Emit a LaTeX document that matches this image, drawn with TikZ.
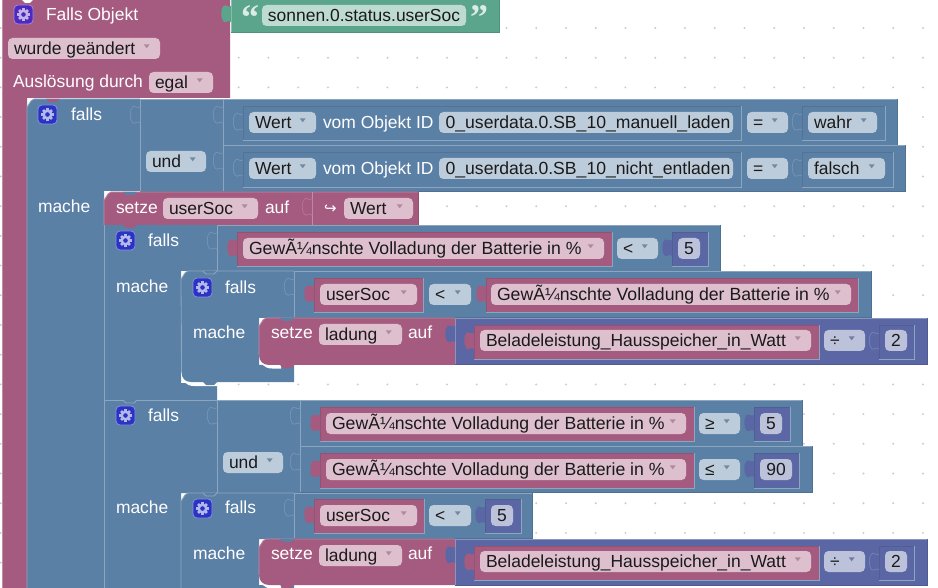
\documentclass[tikz,border=0pt]{standalone}
\usepackage{fontspec}
\setmainfont{Liberation Sans}
\newfontfamily\dvfont{DejaVu Sans}
\newfontfamily\qfont{Liberation Serif}
\definecolor{pk}{HTML}{A55B80}\definecolor{pkL}{HTML}{C08CA6}\definecolor{pkD}{HTML}{844966}\definecolor{pkF}{HTML}{DEBFCE}\definecolor{pkA}{HTML}{AD8A9C}
\definecolor{bl}{HTML}{5B80A5}\definecolor{blL}{HTML}{8CA6C0}\definecolor{blD}{HTML}{496684}\definecolor{blF}{HTML}{BDCCDB}\definecolor{blA}{HTML}{73899F}
\definecolor{pu}{HTML}{5B67A5}\definecolor{puL}{HTML}{8C95C0}\definecolor{puD}{HTML}{495284}\definecolor{puF}{HTML}{BDC2DB}\definecolor{puA}{HTML}{737A9F}
\definecolor{gr}{HTML}{5BA58C}\definecolor{grL}{HTML}{8CC0AF}\definecolor{grD}{HTML}{498470}\definecolor{grF}{HTML}{BDDBD1}\definecolor{grA}{HTML}{73998C}
\definecolor{txtc}{HTML}{1A1A1A}
\definecolor{icV}{HTML}{4F28C0}\definecolor{icB}{HTML}{2A34C4}
\newcommand{\gwt}{\fontsize{17.65}{20}\selectfont Gew\char"C3\char"BC nschte Volladung der Batterie in \%}
\newcommand{\bigt}{\hspace*{4pt}\fontsize{17.6}{20}\selectfont}
\newcount\fldno
\tikzset{
  lbl/.style={anchor=base west,inner sep=0pt,outer sep=0pt,font=\fontsize{17.45}{20}\selectfont,text=white},
  ftxt/.style={lbl,text=txtc},
}
% plain block: light top/left, dark right/bottom
\newcommand{\blk}[5]{\fill[#1] (#2,#3) rectangle (#4,#5);
  \draw[#1D!60!#1,line width=.8pt] (#4,#3) -- (#4,#5) -- (#2,#5);
  \draw[#1L,line width=.8pt] (#2,#5) -- (#2,#3) -- (#4,#3);}
% block sitting in an input: light right/bottom edge
\newcommand{\iblk}[5]{\fill[#1] (#2,#3) rectangle (#4,#5);
  \draw[#1D!50!#1,line width=.8pt] (#2,#5) -- (#2,#3) -- (#4,#3);
  \draw[blL,line width=.8pt] (#4,#3) -- (#4,#5) -- (#2,#5);}
\newcommand{\tabshape}[2]{(#1,{#2+1}) .. controls ({#1-3},{#2+3}) and ({#1-5},{#2-1}) .. ({#1-7.5},{#2+1}) .. controls ({#1-10.5},{#2+3}) and ({#1-10.5},{#2+14}) .. ({#1-7.5},{#2+16.5}) .. controls ({#1-5},{#2+19}) and ({#1-3},{#2+14}) .. (#1,{#2+17})}
\newcommand{\ptab}[3]{\fill[#3] \tabshape{#1}{#2} -- cycle;}
\newcommand{\otab}[3]{\fill[#3] \tabshape{#1}{#2} -- cycle; \draw[#3L!55!#3,line width=.7pt] \tabshape{#1}{#2};}
\newcommand{\fld}[5]{\global\advance\fldno by 1
  \fill[#1F,rounded corners=4.5pt] (#2,#3) rectangle (#4,{#3+21});
  \fill[#1A] ({#4-16.3},{#3+6.3}) -- ({#4-10.3},{#3+6.3}) -- ({#4-13.3},{#3+10.3}) -- cycle;
  \node[ftxt] (f\the\fldno) at ({#2+6},{#3+16.3}) {#5};}
\newcommand{\fldn}[5]{\global\advance\fldno by 1
  \fill[#1F,rounded corners=4.5pt] (#2,#3) rectangle (#4,{#3+21});
  \node[ftxt,anchor=base] (f\the\fldno) at ({(#2+#4)/2},{#3+16.3}) {#5};}
\newcommand{\wlab}[4]{\node[lbl] (#1) at (#2,{#3+.6}) {#4};}
\newcommand{\gearic}[3]{\fill[#3,draw=#3!55!white,line width=.8pt,rounded corners=4pt] (#1,#2) rectangle ({#1+19},{#2+19});
  \foreach \a in {0,45,...,315}{\draw[#3!35!white,line width=2.6pt] ({#1+9.5},{#2+9.5}) -- ++(\a:6.3);}
  \fill[#3!35!white] ({#1+9.5},{#2+9.5}) circle (5);
  \fill[#3] ({#1+9.5},{#2+9.5}) circle (2.3);}
\newcommand{\bumpd}[3]{\fill[#3] (#1,#2) -- ({#1+3},{#2+3}) -- ({#1+11},{#2+3}) -- ({#1+14},#2) -- cycle;}
\newcommand{\bumpl}[2]{\fill[bl] (#1,{#2-.4}) -- ({#1+14},{#2-.4}) -- ({#1+14},{#2+.6}) -- (#1,{#2+.6}) -- cycle;
  \draw[blL,line width=.8pt] (#1,#2) -- ({#1+3},{#2+3}) -- ({#1+11},{#2+3}) -- ({#1+14},#2);}
% white sliver below a rounded bottom-left corner
\newcommand{\wcorner}[3]{\fill[white] (#1,{#2-10}) .. controls (#1,{#2-2}) and ({#1+5},{#2+3.5}) .. ({#1+13},{#2+3.5}) -- (#3,{#2+3.5}) -- (#3,{#2-5}) -- ({#1+2},{#2-10}) -- cycle;}
\begin{document}
\begin{tikzpicture}[x=1pt,y=-1pt]
\path[use as bounding box] (0,0) rectangle (938,588);
\clip (0,0) rectangle (938,588);
\fill[white] (0,0) rectangle (938,588);
% grid of dots
\foreach \i in {0,...,31}{\foreach \j in {-1,0,...,18}{
  \fill[black!20] ({0.7+29.75*\i},{57.7+29.7*\j}) circle (1.1);}}
% top-level event block
\blk{gr}{231}{-3}{499}{32}
\fill[pk] (2,-3) -- (230,-3) -- (230,98) -- (27,98) -- (27,590) -- (2,590) -- cycle;
\draw[pkL,line width=.8pt] (2,590) -- (2,-3);
\ptab{231}{5}{gr}
\fill[white] (22,0) -- (25,3) -- (30,3) -- (33,0) -- cycle;
\gearic{14}{5}{icV}
\wlab{t1}{46}{20}{Falls Objekt}
\fld{pk}{8}{38}{160}{wurde geändert}
\wlab{t2}{13}{87}{Auslösung durch}
\fld{pk}{149}{72}{213}{egal}
\node[lbl,text=grF!55!white,font=\qfont\bfseries\fontsize{36}{36}\selectfont] (q1) at (241,30) {“};
\fldn{gr}{262}{5}{466}{sonnen.0.status.userSoc}
\node[lbl,text=grF!55!white,font=\qfont\bfseries\fontsize{36}{36}\selectfont] (q2) at (470,30) {”};
% first falls
\fill[bl] (34,99) -- (140,99) -- (140,191) -- (104,191) -- (104,590) -- (27,590) -- (27,106) to[out=-90,in=180] (34,99) -- cycle;
\draw[blL,line width=.8pt] (27,590) -- (27,106) to[out=-90,in=180] (34,99) -- (140,99);
\bumpd{46}{99}{pk}
\blk{bl}{140}{99}{223}{191}
\otab{140}{106}{bl}
\blk{bl}{223}{99}{897}{145}
\blk{bl}{223}{145}{905}{191}
\otab{223}{106}{bl}\otab{223}{152}{bl}
\iblk{bl}{243}{106}{741}{140}\otab{243}{113}{bl}
\iblk{bl}{243}{152}{741}{187}\otab{243}{159}{bl}
\iblk{bl}{802}{106}{885}{140}\otab{802}{113}{bl}
\iblk{bl}{802}{152}{893}{187}\otab{802}{159}{bl}
\gearic{38}{105}{icB}
\wlab{t3}{71}{120}{falls}
\fld{bl}{146}{151}{206}{und}
\fld{bl}{249}{112}{316}{Wert}
\wlab{t4}{323}{128}{vom Objekt ID}
\fldn{bl}{439}{112}{733}{\bigt 0\_userdata.0.SB\_10\_manuell\_laden}
\fld{bl}{747}{112}{788}{=}
\fld{bl}{808}{112}{877}{wahr}
\fld{bl}{249}{158}{316}{Wert}
\wlab{t5}{323}{174}{vom Objekt ID}
\fldn{bl}{439}{158}{733}{\bigt 0\_userdata.0.SB\_10\_nicht\_entladen}
\fld{bl}{747}{158}{788}{=}
\fld{bl}{808}{158}{885}{falsch}
\wlab{t6}{38}{212}{mache}
% setze userSoc
\fill[pk] (111,192) -- (418,192) -- (418,225) -- (104,225) -- (104,199) to[out=-90,in=180] (111,192) -- cycle;
\draw[pkL,line width=.8pt] (104,225) -- (104,199) to[out=-90,in=180] (111,192) -- (418,192);
\draw[pkD!60!pk,line width=.8pt] (418,192) -- (418,225);
\draw[pkL,line width=.7pt] (312,192) -- (312,225);
\otab{312}{198}{pk}
\bumpd{123}{192}{bl}
\wlab{t7}{116}{213}{setze}
\fld{pk}{163}{198}{258}{userSoc}
\wlab{t8}{265}{213}{auf}
\node[lbl,font=\dvfont\fontsize{15}{18}\selectfont] (t9) at (324,213.5) {↪};
\fld{pk}{344}{198}{413}{Wert}
% second falls (first inner)
\fill[bl] (104,225) -- (217,225) -- (217,271) -- (181,271) -- (181,383) -- (217,383) -- (217,400) -- (104,400) -- cycle;
\draw[blL,line width=.8pt] (104,400) -- (104,225);
\bumpd{123}{225}{pk}
\blk{bl}{217}{225}{720}{271}
\otab{217}{232}{bl}
\iblk{pk}{237}{232}{612}{266}\ptab{237}{239}{pk}
\iblk{pu}{672}{232}{708}{266}\ptab{672}{239}{pu}
\gearic{116}{231}{icB}
\wlab{t10}{148}{246}{falls}
\fld{pk}{243}{238}{604}{\gwt}
\fld{bl}{617}{238}{658}{<}
\fldn{pu}{678}{238}{700}{5}
\wlab{t11}{116}{292}{mache}
% nested falls 1
\wcorner{181}{382.5}{217}
\fill[bl] (188,271) -- (294,271) -- (294,318) -- (259,318) -- (259,365) -- (294,365) -- (294,382) -- (191,382) .. controls (185,382) and (181.5,378) .. (181.5,372) -- (181,278) to[out=-90,in=180] (188,271) -- cycle;
\draw[blL,line width=.8pt] (181.5,372) -- (181,278) to[out=-90,in=180] (188,271) -- (294,271);
\bumpd{203}{382}{bl}
\bumpl{203}{271}
\blk{bl}{294}{271}{871}{317}
\otab{294}{278}{bl}
\iblk{pk}{314}{278}{423}{312}\ptab{314}{285}{pk}
\iblk{pk}{486}{278}{858}{312}\ptab{486}{285}{pk}
\gearic{193}{278}{icB}
\wlab{t12}{225}{293}{falls}
\fld{pk}{320}{284}{417}{userSoc}
\fld{bl}{429}{284}{471}{<}
\fld{pk}{491}{284}{851}{\gwt}
\wlab{t13}{193}{338}{mache}
% setze ladung 1
\wcorner{259}{365}{281}
\fill[pk] (266,318) -- (455,318) -- (455,365) -- (269,365) .. controls (263,365) and (259,361) .. (259,355) -- (259,325) to[out=-90,in=180] (266,318) -- cycle;
\draw[pkL,line width=.8pt] (259,355) -- (259,325) to[out=-90,in=180] (266,318) -- (455,318);
\bumpd{280}{365}{pk}
\bumpd{280}{318}{bl}
\wlab{t14}{271}{338}{setze}
\fld{pk}{319}{324}{402}{ladung}
\wlab{t15}{408}{338}{auf}
\blk{pu}{455}{318}{927}{364}
\ptab{455}{325}{pu}
\iblk{pk}{474}{325}{819}{359}\ptab{474}{332}{pk}
\iblk{pu}{879}{325}{914}{359}\otab{879}{332}{pu}
\fld{pk}{480}{330}{811}{\fontsize{17.5}{20}\selectfont Beladeleistung\_Hausspeicher\_in\_Watt}
\fld{pu}{824}{330}{865}{÷}
\fldn{pu}{885}{330}{907}{2}
% second falls
\fill[bl] (104,400) -- (217,400) -- (217,493) -- (181,493) -- (181,590) -- (104,590) -- cycle;
\draw[blL,line width=.8pt] (104,590) -- (104,400) -- (217,400);
\bumpl{123}{400}
\blk{bl}{217}{400}{300}{493}
\otab{217}{407}{bl}
\blk{bl}{300}{400}{802}{446}
\blk{bl}{300}{446}{812}{492}
\otab{300}{407}{bl}\otab{300}{453}{bl}
\iblk{pk}{320}{407}{694}{441}\ptab{320}{414}{pk}
\iblk{pk}{320}{453}{694}{488}\ptab{320}{460}{pk}
\iblk{pu}{754}{407}{790}{441}\ptab{754}{414}{pu}
\iblk{pu}{754}{453}{799}{488}\ptab{754}{460}{pu}
\gearic{116}{406}{icB}
\wlab{t16}{148}{421}{falls}
\fld{bl}{223}{452}{283}{und}
\fld{pk}{326}{413}{686}{\gwt}
\fld{bl}{699}{413}{740}{≥}
\fldn{pu}{760}{413}{782}{5}
\fld{pk}{326}{459}{686}{\gwt}
\fld{bl}{699}{459}{740}{≤}
\fldn{pu}{760}{459}{792}{90}
\wlab{t17}{116}{513}{mache}
% nested falls 2
\fill[bl] (188,493) -- (294,493) -- (294,539) -- (259,539) -- (259,585) -- (294,585) -- (294,590) -- (181,590) -- (181,500) to[out=-90,in=180] (188,493) -- cycle;
\draw[blL,line width=.8pt] (181,590) -- (181,500) to[out=-90,in=180] (188,493) -- (294,493);
\bumpl{203}{493}
\blk{bl}{294}{493}{532}{538}
\otab{294}{499}{bl}
\iblk{pk}{314}{499}{424}{533}\ptab{314}{506}{pk}
\iblk{pu}{485}{499}{521}{533}\ptab{485}{506}{pu}
\gearic{193}{499}{icB}
\wlab{t18}{225}{513}{falls}
\fld{pk}{320}{505}{417}{userSoc}
\fld{bl}{429}{505}{471}{<}
\fldn{pu}{491}{505}{513}{5}
\wlab{t19}{193}{559}{mache}
% setze ladung 2
\wcorner{259}{585}{281}
\fill[pk] (266,539) -- (455,539) -- (455,585) -- (269,585) .. controls (263,585) and (259,581) .. (259,575) -- (259,546) to[out=-90,in=180] (266,539) -- cycle;
\draw[pkL,line width=.8pt] (259,575) -- (259,546) to[out=-90,in=180] (266,539) -- (455,539);
\bumpd{280}{585}{pk}
\bumpd{280}{539}{bl}
\wlab{t20}{271}{559}{setze}
\fld{pk}{319}{545}{402}{ladung}
\wlab{t21}{408}{559}{auf}
\blk{pu}{455}{539}{927}{585}
\ptab{455}{546}{pu}
\iblk{pk}{474}{546}{819}{580}\ptab{474}{553}{pk}
\iblk{pu}{879}{546}{914}{580}\otab{879}{553}{pu}
\fld{pk}{480}{551}{811}{\fontsize{17.5}{20}\selectfont Beladeleistung\_Hausspeicher\_in\_Watt}
\fld{pu}{824}{551}{865}{÷}
\fldn{pu}{885}{551}{907}{2}
\end{tikzpicture}
\end{document}
